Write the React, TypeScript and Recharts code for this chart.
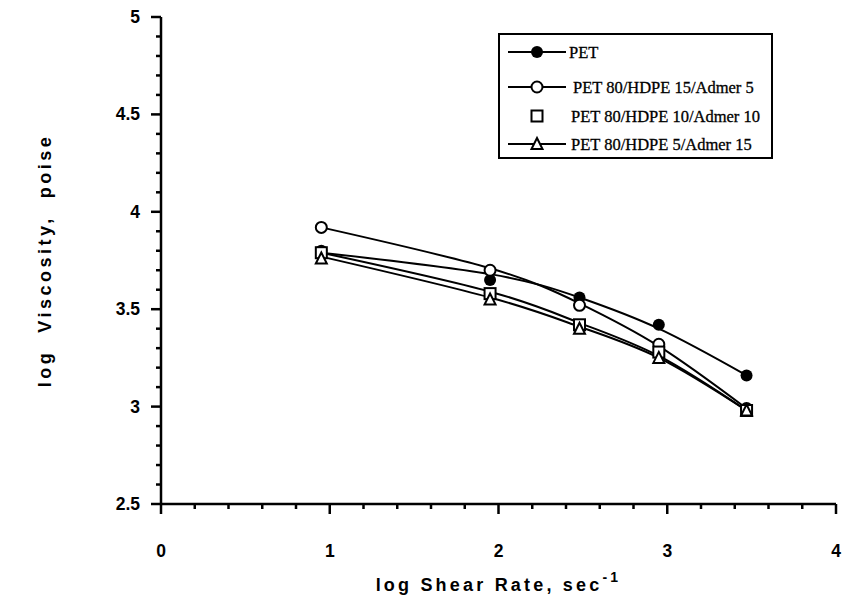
import { ComposedChart, Line, XAxis, YAxis, Legend, Label } from "recharts"

const shearRate = [0.95, 1.95, 2.48, 2.95, 3.47]

// measured points
const pet = [3.8, 3.65, 3.56, 3.42, 3.16]
const pet15 = [3.92, 3.7, 3.52, 3.32, 2.99]
const pet10 = [3.79, 3.58, 3.42, 3.28, 2.98]
const pet5 = [3.76, 3.55, 3.4, 3.25, 2.98]

// fitted curves
const petFit = [3.79, 3.68, 3.56, 3.4, 3.16]
const pet15Fit = [3.92, 3.71, 3.53, 3.31, 2.99]
const pet10Fit = [3.79, 3.59, 3.43, 3.26, 2.98]
const pet5Fit = [3.77, 3.56, 3.41, 3.25, 2.98]

const seriesNames = [
  "PET",
  "PET 80/HDPE 15/Admer 5",
  "PET 80/HDPE 10/Admer 10",
  "PET 80/HDPE 5/Admer 15",
]

const xTicks = [0, 0.2, 0.4, 0.6, 0.8, 1, 1.2, 1.4, 1.6, 1.8, 2, 2.2, 2.4, 2.6, 2.8, 3, 3.2, 3.4, 3.6, 3.8, 4]
const yTicks = [
  2.5, 2.6, 2.7, 2.8, 2.9, 3, 3.1, 3.2, 3.3, 3.4, 3.5, 3.6, 3.7, 3.8, 3.9, 4, 4.1, 4.2, 4.3, 4.4, 4.5, 4.6, 4.7, 4.8,
  4.9, 5,
]
const xMajor = [0, 1, 2, 3, 4]
const yMajor = [2.5, 3, 3.5, 4, 4.5, 5]

const data = shearRate.map((x, i) => ({
  x,
  pet: pet[i],
  pet15: pet15[i],
  pet10: pet10[i],
  pet5: pet5[i],
  petFit: petFit[i],
  pet15Fit: pet15Fit[i],
  pet10Fit: pet10Fit[i],
  pet5Fit: pet5Fit[i],
}))

const INK = "#000"
const sansBold = { fontFamily: "'Liberation Sans', Arial, sans-serif", fontWeight: 700 }

type Kind = "filled" | "circle" | "square" | "triangle"

function marker(kind: Kind, cx: number, cy: number, key?: string) {
  if (kind === "filled") return <circle key={key} cx={cx} cy={cy} r={6} fill={INK} />
  if (kind === "circle")
    return <circle key={key} cx={cx} cy={cy} r={5.5} fill="#fff" stroke={INK} strokeWidth={2} />
  if (kind === "square")
    return <rect key={key} x={cx - 5.5} y={cy - 5.5} width={11} height={11} fill="#fff" stroke={INK} strokeWidth={2} />
  return (
    <polygon
      key={key}
      points={`${cx},${cy - 6} ${cx + 5.5},${cy + 5} ${cx - 5.5},${cy + 5}`}
      fill="#fff"
      stroke={INK}
      strokeWidth={2}
    />
  )
}

const dotFor = (kind: Kind) => (props: any) => marker(kind, props.cx, props.cy, `${kind}-${props.index}`)

function YTick({ x, y, payload }: any) {
  const major = yMajor.some((m) => Math.abs(m - payload.value) < 1e-6)
  return (
    <g>
      <line x1={x} x2={x - (major ? 10 : 5)} y1={y} y2={y} stroke={INK} strokeWidth={2.5} />
      {major && (
        <text x={x - 21} y={y} textAnchor="end" dominantBaseline="central" fontSize={17.5} fill={INK} style={sansBold}>
          {payload.value}
        </text>
      )}
    </g>
  )
}

function XTick({ x, y, payload }: any) {
  const major = xMajor.some((m) => Math.abs(m - payload.value) < 1e-6)
  return (
    <g>
      <line x1={x} x2={x} y1={y} y2={y + (major ? 10 : 5)} stroke={INK} strokeWidth={2.5} />
      {major && (
        <text x={x} y={y + 47} textAnchor="middle" dominantBaseline="central" fontSize={17.5} fill={INK} style={sansBold}>
          {payload.value}
        </text>
      )}
    </g>
  )
}

const legendKinds: Kind[] = ["filled", "circle", "square", "triangle"]
const legendRows = [19, 54, 83, 111]
const legendTextX = [71, 75, 73, 73]

function LegendBox() {
  return (
    <svg width={276} height={127}>
      <rect x={1} y={1} width={273} height={124} fill="#fff" stroke={INK} strokeWidth={2} />
      {seriesNames.map((name, i) => (
        <g key={name}>
          {legendKinds[i] !== "square" && (
            <line x1={10} x2={68} y1={legendRows[i]} y2={legendRows[i]} stroke={INK} strokeWidth={2} />
          )}
          {marker(legendKinds[i], 39, legendRows[i])}
          <text
            x={legendTextX[i]}
            y={legendRows[i]}
            dominantBaseline="central"
            fontSize={16.5}
            fill={INK}
            stroke={INK}
            strokeWidth={0.3}
            fontFamily="'Liberation Serif', 'Times New Roman', serif"
          >
            {name}
          </text>
        </g>
      ))}
    </svg>
  )
}

export default function App() {
  return (
    <div style={{ position: "absolute", left: 0, top: 0, width: 843, height: 598, background: "#fff" }}>
      <ComposedChart width={843} height={598} data={data} margin={{ top: 17, right: 7, bottom: 0, left: 0 }}>
        <XAxis
          dataKey="x"
          type="number"
          domain={[0, 4]}
          ticks={xTicks}
          interval={0}
          tickSize={0}
          tickMargin={0}
          height={94}
          tick={<XTick />}
          axisLine={{ stroke: INK, strokeWidth: 2.5 }}
        >
          <Label
            content={({ viewBox }: any) => (
              <text
                x={viewBox.x + viewBox.width / 2}
                y={viewBox.y + 81}
                textAnchor="middle"
                dominantBaseline="central"
                fontSize={18}
                fill={INK}
                style={{ ...sansBold, letterSpacing: 3.2 }}
              >
                log Shear Rate, sec
                <tspan dy={-8} fontSize={14}>
                  -1
                </tspan>
              </text>
            )}
          />
        </XAxis>
        <YAxis
          type="number"
          domain={[2.5, 5]}
          ticks={yTicks}
          interval={0}
          tickSize={0}
          tickMargin={0}
          width={161}
          tick={<YTick />}
          axisLine={{ stroke: INK, strokeWidth: 2.5 }}
        >
          <Label
            content={({ viewBox }: any) => {
              const cx = 45
              const cy = viewBox.y + viewBox.height / 2
              return (
                <text
                  x={cx}
                  y={cy}
                  textAnchor="middle"
                  dominantBaseline="central"
                  transform={`rotate(-90 ${cx} ${cy})`}
                  fontSize={18}
                  fill={INK}
                  style={{ ...sansBold, letterSpacing: 3.5, whiteSpace: "pre" }}
                >
                  {"log  Viscosity,  poise"}
                </text>
              )
            }}
          />
        </YAxis>
        <Legend
          layout="vertical"
          align="center"
          verticalAlign="middle"
          content={() => <LegendBox />}
          wrapperStyle={{ left: 498, top: 33, width: 276, height: 127 }}
        />

        <Line type="natural" dataKey="petFit" stroke={INK} strokeWidth={2} dot={false} activeDot={false} isAnimationActive={false} />
        <Line type="natural" dataKey="pet15Fit" stroke={INK} strokeWidth={2} dot={false} activeDot={false} isAnimationActive={false} />
        <Line type="natural" dataKey="pet10Fit" stroke={INK} strokeWidth={2} dot={false} activeDot={false} isAnimationActive={false} />
        <Line type="natural" dataKey="pet5Fit" stroke={INK} strokeWidth={2} dot={false} activeDot={false} isAnimationActive={false} />

        <Line dataKey="pet" stroke="none" dot={dotFor("filled")} activeDot={false} isAnimationActive={false} />
        <Line dataKey="pet15" stroke="none" dot={dotFor("circle")} activeDot={false} isAnimationActive={false} />
        <Line dataKey="pet10" stroke="none" dot={dotFor("square")} activeDot={false} isAnimationActive={false} />
        <Line dataKey="pet5" stroke="none" dot={dotFor("triangle")} activeDot={false} isAnimationActive={false} />
      </ComposedChart>
    </div>
  )
}
